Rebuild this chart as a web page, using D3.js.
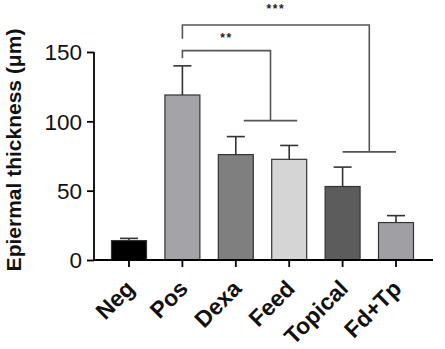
<!DOCTYPE html>
<html><head><meta charset="utf-8">
<script src="https://cdn.jsdelivr.net/npm/d3@7"></script>
<style>body{margin:0;background:#fff}svg{display:block}</style>
</head><body>
<svg id="c" width="445" height="349"></svg>
<script>
const categories = ["Neg","Pos","Dexa","Feed","Topical","Fd+Tp"];
const means = [14, 119, 76, 72.6, 53, 27];
const errors = [1.6, 21, 13, 10, 14, 5];
const colors = ["#000000","#a3a3a8","#7f7f7f","#d5d5d5","#5c5c5c","#a0a0a4"];
const yTicks = [0, 50, 100, 150];
const yTitle = "Epiermal thickness (μm)";
// significance brackets (values in data units)
const sigs = [
  {from: 1, to: [2, 3], label: "**", top: 151, leftEnd: 145.5, rightEnd: 100.5, shift: 8},
  {from: 1, to: [4, 5], label: "***", top: 169.5, leftEnd: 159.5, rightEnd: 78, shift: 0}
];
const labelGaps = [8.5, 12];

const svg = d3.select("#c");
const font = "Liberation Sans, Arial, sans-serif";
const y = d3.scaleLinear().domain([0, 150]).range([260, 52]);
const x = d3.scaleBand().domain(categories).range([102.3, 422.7]).paddingInner(0.345).paddingOuter(0.1725);

// bars
svg.selectAll("rect.bar").data(categories).enter().append("rect")
  .attr("x", d => x(d)).attr("width", x.bandwidth())
  .attr("y", (d,i) => y(means[i])).attr("height", (d,i) => y(0) - y(means[i]))
  .attr("fill", (d,i) => colors[i]).attr("stroke", "#333").attr("stroke-width", 1.2);

// error bars
const eg = svg.append("g").attr("stroke", "#333").attr("stroke-width", 1.6);
categories.forEach((c,i) => {
  const cx = x(c) + x.bandwidth()/2;
  eg.append("line").attr("x1", cx).attr("x2", cx).attr("y1", y(means[i])).attr("y2", y(means[i]+errors[i]));
  eg.append("line").attr("x1", cx-9).attr("x2", cx+9).attr("y1", y(means[i]+errors[i])).attr("y2", y(means[i]+errors[i]));
});

// y axis
const ya = svg.append("g").attr("transform", "translate(94,0)")
  .call(d3.axisLeft(y).tickValues(yTicks).tickSize(7).tickPadding(5));
ya.select(".domain").attr("stroke", "#000").attr("stroke-width", 1.8).attr("d", "M0,52V260");
ya.selectAll(".tick line").attr("stroke", "#000").attr("stroke-width", 1.8);
ya.selectAll(".tick text").attr("font-family", font).attr("font-size", 22.5).attr("fill", "#111").attr("dy", "0.35em");

// x axis
const xa = svg.append("g").attr("transform", "translate(0,260)")
  .call(d3.axisBottom(x).tickSize(7).tickPadding(3));
xa.select(".domain").attr("stroke", "#000").attr("stroke-width", 1.8).attr("d", "M94,0H433");
xa.selectAll(".tick line").attr("stroke", "#000").attr("stroke-width", 1.8);
xa.selectAll(".tick text").attr("font-family", font).attr("font-weight", "bold")
  .attr("font-size", 23).attr("fill", "#111").attr("text-anchor", "end")
  .attr("transform", "translate(7,30) rotate(-45)").attr("y", 0).attr("dy", 0);

// y title
svg.append("text").attr("transform", "translate(21,150) rotate(-90)").attr("text-anchor", "middle")
  .attr("font-family", font).attr("font-weight", "bold").attr("font-size", 21)
  .attr("fill", "#111").text(yTitle);

// significance brackets
const bg = svg.append("g").attr("stroke", "#555").attr("stroke-width", 1.6).attr("fill", "none");
sigs.forEach((s, k) => {
  const x0 = x(categories[s.from]) + x.bandwidth()/2;
  const xa0 = x(categories[s.to[0]]) + x.bandwidth()/2 + s.shift;
  const xa1 = x(categories[s.to[1]]) + x.bandwidth()/2 + s.shift;
  const xr = (xa0 + xa1)/2;
  bg.append("path").attr("d", `M${x0},${y(s.leftEnd)}V${y(s.top)}H${xr}V${y(s.rightEnd)}`);
  bg.append("line").attr("x1", xa0).attr("x2", xa1).attr("y1", y(s.rightEnd)).attr("y2", y(s.rightEnd));
  svg.append("text").attr("x", (x0 + xr)/2).attr("y", y(s.top) - labelGaps[k]).attr("text-anchor", "middle")
    .attr("font-family", font).attr("font-weight", "bold").attr("font-size", 12).attr("letter-spacing", 1.5)
    .attr("fill", "#222").text(s.label);
});
</script>
</body></html>
